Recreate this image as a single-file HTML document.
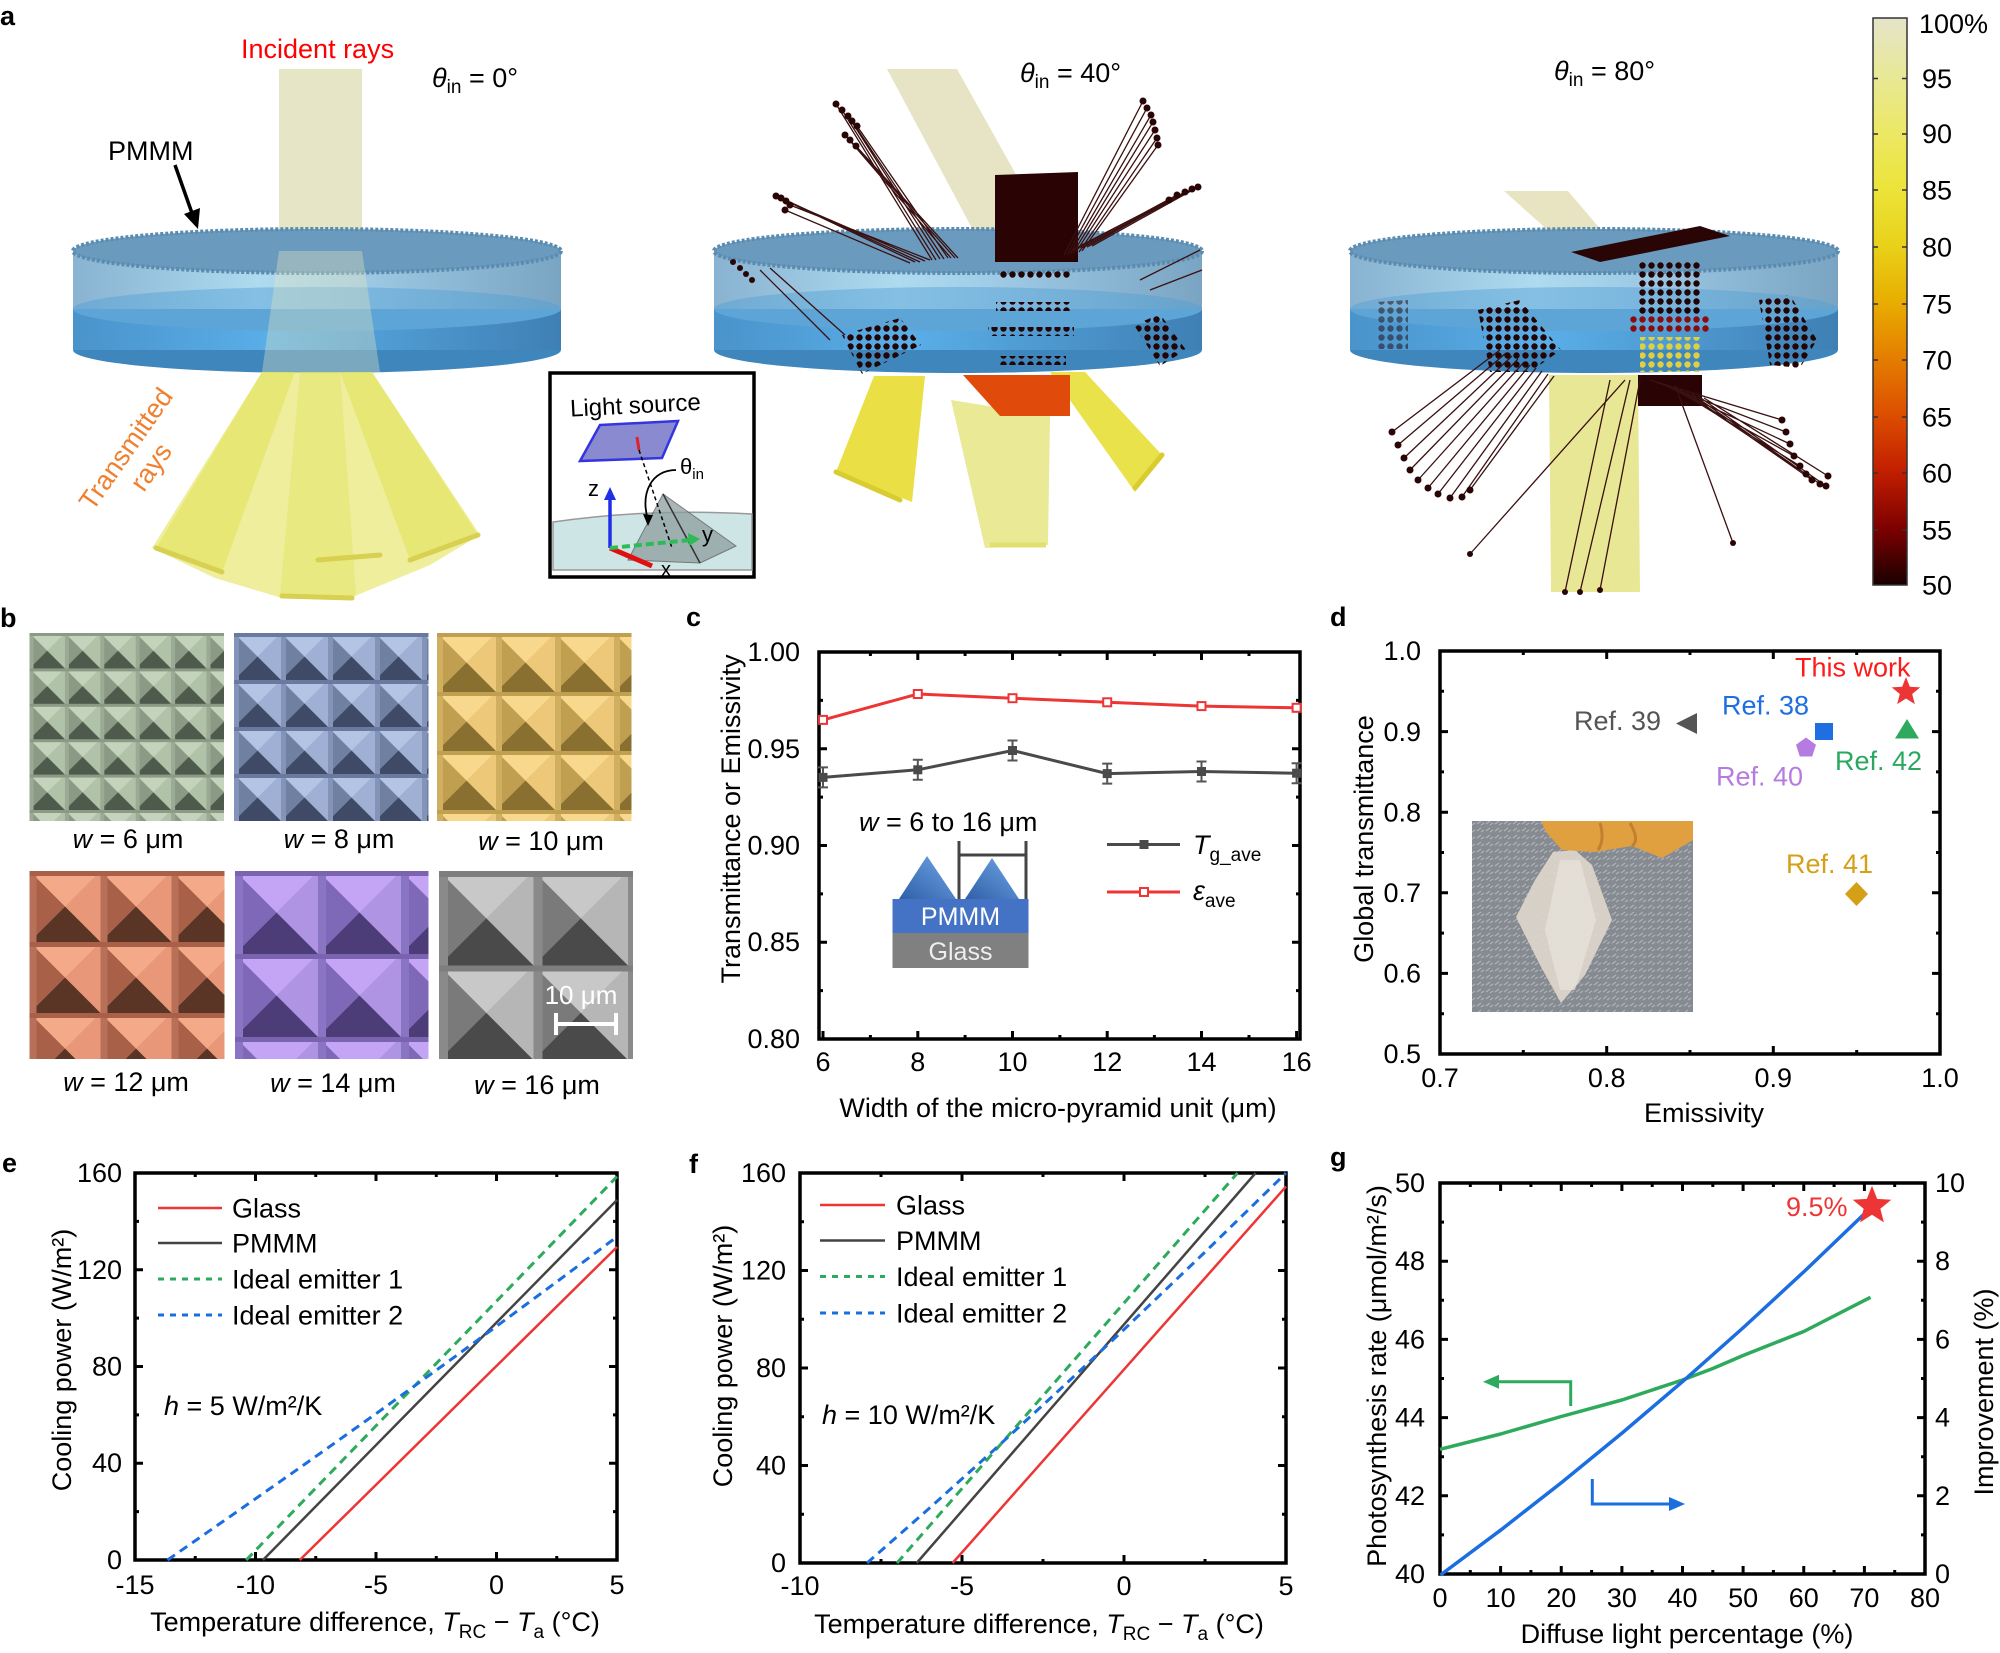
<!DOCTYPE html>
<html><head><meta charset="utf-8"><style>
html,body{margin:0;padding:0;background:#fff;}
svg{display:block;}
text{font-family:"Liberation Sans",Arial,sans-serif;}
</style></head><body>
<svg width="2000" height="1653" viewBox="0 0 2000 1653" xmlns="http://www.w3.org/2000/svg">
<defs>
<linearGradient id="gUp" x1="0" x2="1" y1="0" y2="0"><stop offset="0" stop-color="#7eaccd"/><stop offset="0.38" stop-color="#a8d8ef"/><stop offset="0.6" stop-color="#94c4e2"/><stop offset="1" stop-color="#6e9cbd"/></linearGradient>
<linearGradient id="gLow" x1="0" x2="1" y1="0" y2="0"><stop offset="0" stop-color="#4a93cb"/><stop offset="0.4" stop-color="#5aaee8"/><stop offset="1" stop-color="#3f80b4"/></linearGradient>
<linearGradient id="cbar" x1="0" x2="0" y1="0" y2="1"><stop offset="0" stop-color="#e6e4ca"/><stop offset="0.1" stop-color="#e8e898"/><stop offset="0.2" stop-color="#ece866"/><stop offset="0.3" stop-color="#ece43a"/><stop offset="0.4" stop-color="#e8d21a"/><stop offset="0.5" stop-color="#e8ae00"/><stop offset="0.6" stop-color="#e47e00"/><stop offset="0.7" stop-color="#dc4e00"/><stop offset="0.8" stop-color="#c21e00"/><stop offset="0.9" stop-color="#7e0000"/><stop offset="1" stop-color="#180000"/></linearGradient>
<linearGradient id="pyr" x1="0" x2="1" y1="1" y2="0"><stop offset="0" stop-color="#2f5fa8"/><stop offset="1" stop-color="#6fa6e6"/></linearGradient>
<pattern id="dotp" width="9" height="9" patternUnits="userSpaceOnUse"><circle cx="4.5" cy="4.5" r="3.2" fill="#220404"/></pattern>
<pattern id="dotr" width="9" height="9" patternUnits="userSpaceOnUse"><circle cx="4.5" cy="4.5" r="3.2" fill="#8a0c0c"/></pattern>
<pattern id="doty" width="9" height="9" patternUnits="userSpaceOnUse"><circle cx="4.5" cy="4.5" r="3.2" fill="#e0d040"/></pattern>
<pattern id="photo" width="9" height="7" patternUnits="userSpaceOnUse"><rect width="9" height="7" fill="#868b92"/><path d="M1 5 L5 2 M5 6 L8 4" stroke="#aeb2b8" stroke-width="1.2"/></pattern>
<g id="disc">
 <ellipse cx="244" cy="122" rx="244" ry="23" fill="#3f86bd"/>
 <rect x="0" y="81" width="488" height="41" fill="url(#gLow)"/>
 <ellipse cx="244" cy="81" rx="244" ry="22" fill="#5ba2d6"/>
 <rect x="0" y="23" width="488" height="58" fill="url(#gUp)" opacity="0.92"/>
 <ellipse cx="244" cy="81" rx="244" ry="22" fill="#62a8da" opacity="0.45"/>
 <ellipse cx="244" cy="23" rx="244" ry="22" fill="#6a9abd" stroke="#5b8cb0" stroke-width="4" stroke-dasharray="3 2"/>
</g>
<path id="star" d="M0 -15 L3.82 -5.26 L14.27 -4.64 L6.18 2.01 L8.82 12.14 L0 6.5 L-8.82 12.14 L-6.18 2.01 L-14.27 -4.64 L-3.82 -5.26 Z"/>
</defs>

<!-- ================= PANEL A ================= -->
<text x="0" y="25" font-size="27" font-weight="bold">a</text>
<text x="241" y="58" font-size="27" fill="#ff0000">Incident rays</text>
<text x="432" y="87" font-size="27"><tspan font-style="italic">θ</tspan><tspan font-size="19" dy="6">in</tspan><tspan dy="-6"> = 0°</tspan></text>
<text x="1020" y="82" font-size="27"><tspan font-style="italic">θ</tspan><tspan font-size="19" dy="6">in</tspan><tspan dy="-6"> = 40°</tspan></text>
<text x="1554" y="80" font-size="27"><tspan font-style="italic">θ</tspan><tspan font-size="19" dy="6">in</tspan><tspan dy="-6"> = 80°</tspan></text>
<text x="108" y="160" font-size="27">PMMM</text>
<path d="M175 165 L193 216" stroke="#000" stroke-width="3.5"/>
<polygon points="198,229 200,208 184,214" fill="#000"/>

<!-- left disc -->
<rect x="279" y="69" width="83" height="182" fill="#e6e6c6"/>
<use href="#disc" x="73" y="228"/>
<polygon points="279,251 362,251 380,372 262,372" fill="#e8e8c0" opacity="0.35"/>
<polygon points="262,372 372,372 480,535 430,565 350,598 282,598 215,578 152,548" fill="#e8e87c" opacity="0.75"/>
<polygon points="262,372 295,372 222,572 156,548" fill="#e2e25a" opacity="0.6"/>
<polygon points="340,372 372,372 478,535 410,560" fill="#e2e25a" opacity="0.6"/>
<polygon points="300,372 340,372 356,596 280,596" fill="#e4e466" opacity="0.5"/>
<g stroke="#d8d050" stroke-width="5" stroke-linecap="round" fill="none">
<path d="M156 548 L222 572"/><path d="M282 596 L352 598"/><path d="M410 560 L478 535"/><path d="M318 560 L380 555"/>
</g>
<text transform="translate(126,449) rotate(-55)" font-size="27" fill="#f08030" text-anchor="middle" dominant-baseline="central">Transmitted</text>
<text transform="translate(151,467) rotate(-55)" font-size="27" fill="#f08030" text-anchor="middle" dominant-baseline="central">rays</text>

<!-- inset -->
<rect x="550" y="373" width="204" height="204" fill="#fff" stroke="#000" stroke-width="3.5"/>
<path d="M553 522 Q650 508 752 514 L752 570 L553 570 Z" fill="#cde5e5" stroke="#999" stroke-width="1.5"/>
<polygon points="663,494 628,560 700,563 736,546" fill="#8e9e9e" opacity="0.75" stroke="#555" stroke-width="1"/>
<path d="M663 494 L700 563" stroke="#333" stroke-width="1.5"/>
<polygon points="600,425 678,421 662,458 580,461" fill="#8a8ad0" stroke="#3535e0" stroke-width="2.5"/>
<path d="M637 437 L639 450" stroke="#e0202a" stroke-width="3"/>
<path d="M639 450 L672 548" stroke="#000" stroke-width="1.5" stroke-dasharray="4 3"/>
<path d="M676 470 C652 470 640 492 648 520" stroke="#000" stroke-width="1.8" fill="none"/>
<polygon points="648,526 643,514 653,515" fill="#000"/>
<text x="680" y="474" font-size="22">θ<tspan font-size="15" dy="5">in</tspan></text>
<path d="M610 548 L610 498" stroke="#1f2fe8" stroke-width="3.5"/>
<polygon points="610,487 604,500 616,500" fill="#1f2fe8"/>
<text x="588" y="496" font-size="22">z</text>
<path d="M610 548 L652 566" stroke="#e01010" stroke-width="5"/>
<path d="M610 548 L690 540" stroke="#2dbb55" stroke-width="4" stroke-dasharray="8 4"/>
<polygon points="700,539 688,533 689,546" fill="#2dbb55"/>
<text x="702" y="542" font-size="22">y</text>
<text x="661" y="576" font-size="20">x</text>
<text x="570" y="413" font-size="24" transform="rotate(-3 640 405)">Light source</text>

<!-- middle disc -->
<polygon points="887,69 957,69 1065,262 990,262" fill="#e6e4c4"/>
<use href="#disc" x="714" y="228"/>
<polygon points="995,175 1078,172 1078,262 995,262" fill="#2a0404"/>
<g stroke="#3a1010" stroke-width="1.3" fill="none">
<path d="M915 262 L776 196M920 262 L781 198M925 261 L786 201M930 260 L790 205M910 263 L785 210"/>
<path d="M932 260 L836 104M936 260 L842 110M940 259 L848 116M944 259 L852 121M948 258 L857 126M951 258 L845 135M955 258 L850 140M958 258 L856 146"/>
<path d="M1064 255 L1143 101M1067 255 L1147 108M1070 254 L1151 115M1073 253 L1153 122M1076 252 L1155 130M1079 252 L1157 138M1082 251 L1158 145"/>
<path d="M1072 250 L1169 200M1077 249 L1177 195M1082 248 L1185 192M1087 247 L1192 189M1092 246 L1198 187"/>
<path d="M760 270 L830 340M770 268 L845 335M1140 280 L1200 250M1150 290 L1202 270"/>
</g>
<g fill="#2a0505">
<circle cx="776" cy="196" r="3.5"/><circle cx="781" cy="198" r="3.5"/><circle cx="786" cy="201" r="3.5"/><circle cx="790" cy="205" r="3.5"/><circle cx="785" cy="210" r="3.5"/>
<circle cx="836" cy="104" r="3.5"/><circle cx="842" cy="110" r="3.5"/><circle cx="848" cy="116" r="3.5"/><circle cx="852" cy="121" r="3.5"/><circle cx="857" cy="126" r="3.5"/><circle cx="845" cy="135" r="3.5"/><circle cx="850" cy="140" r="3.5"/><circle cx="856" cy="146" r="3.5"/>
<circle cx="1143" cy="101" r="3.5"/><circle cx="1147" cy="108" r="3.5"/><circle cx="1151" cy="115" r="3.5"/><circle cx="1153" cy="122" r="3.5"/><circle cx="1155" cy="130" r="3.5"/><circle cx="1157" cy="138" r="3.5"/><circle cx="1158" cy="145" r="3.5"/>
<circle cx="1169" cy="200" r="3.5"/><circle cx="1177" cy="195" r="3.5"/><circle cx="1185" cy="192" r="3.5"/><circle cx="1192" cy="189" r="3.5"/><circle cx="1198" cy="187" r="3.5"/>
<circle cx="733" cy="262" r="3"/><circle cx="740" cy="268" r="3"/><circle cx="746" cy="274" r="3"/><circle cx="752" cy="280" r="3"/>
</g>
<rect x="998" y="271" width="72" height="9" fill="url(#dotp)"/>
<rect x="996" y="302" width="76" height="9" fill="url(#dotp)"/>
<rect x="988" y="327" width="86" height="9" fill="url(#dotp)"/>
<rect x="998" y="356" width="68" height="9" fill="url(#dotp)"/>
<polygon points="842,335 900,318 921,345 862,374" fill="url(#dotp)"/>
<polygon points="1134,325 1160,314 1186,350 1160,366" fill="url(#dotp)"/>
<polygon points="874,376 925,376 912,502 836,472" fill="#e8dc30" opacity="0.9"/>
<polygon points="951,400 1050,416 1048,545 985,548" fill="#e8e890" opacity="0.95"/>
<polygon points="1050,372 1085,372 1162,455 1135,492" fill="#e8e040" opacity="0.95"/>
<polygon points="963,375 1070,375 1070,416 1000,416" fill="#e04a0a"/>
<g stroke="#d8cc30" stroke-width="5" stroke-linecap="round"><path d="M836 472 L900 500"/><path d="M1135 488 L1162 455"/></g>
<path d="M990 545 L1046 545" stroke="#e0e070" stroke-width="5"/>

<!-- right disc -->
<polygon points="1504,191 1568,191 1619,251 1571,251" fill="#e8e4c2"/>
<use href="#disc" x="1350" y="228"/>
<polygon points="1571,252 1700,226 1730,236 1600,262" fill="#2a0505"/>
<rect x="1638" y="262" width="64" height="52" fill="url(#dotp)"/>
<rect x="1630" y="314" width="80" height="18" fill="url(#dotr)"/>
<rect x="1640" y="337" width="62" height="35" fill="url(#doty)"/>
<polygon points="1478,310 1520,300 1561,350 1530,372 1490,372" fill="url(#dotp)"/>
<polygon points="1759,300 1790,295 1817,340 1800,368 1770,365" fill="url(#dotp)"/>
<polygon points="1376,302 1408,300 1408,349 1376,349" fill="url(#dotp)" opacity="0.5"/>
<polygon points="1549,375 1638,375 1640,592 1551,592" fill="#e4e48a" opacity="0.9"/>
<rect x="1638" y="375" width="64" height="31" fill="#2a0404"/>
<g stroke="#3a1010" stroke-width="1.3" fill="none">
<path d="M1500 350 L1392 432M1506 353 L1398 445M1512 356 L1404 458M1518 359 L1410 470M1524 362 L1418 480M1530 365 L1428 488M1536 368 L1438 494M1542 371 L1450 498M1548 374 L1462 497M1554 376 L1470 490"/>
<path d="M1650 380 L1782 420M1656 382 L1786 432M1662 384 L1790 444M1668 386 L1794 456M1674 388 L1800 466M1680 390 L1806 474M1686 392 L1812 480M1692 394 L1820 484M1698 396 L1826 486M1704 398 L1828 476"/>
<path d="M1625 380 L1470 554M1675 385 L1733 543M1610 380 L1565 592M1630 380 L1580 592M1640 380 L1600 590"/>
</g>
<g fill="#2a0505">
<circle cx="1392" cy="432" r="3.5"/><circle cx="1398" cy="445" r="3.5"/><circle cx="1404" cy="458" r="3.5"/><circle cx="1410" cy="470" r="3.5"/><circle cx="1418" cy="480" r="3.5"/><circle cx="1428" cy="488" r="3.5"/><circle cx="1438" cy="494" r="3.5"/><circle cx="1450" cy="498" r="3.5"/><circle cx="1462" cy="497" r="3.5"/><circle cx="1470" cy="490" r="3.5"/>
<circle cx="1782" cy="420" r="3.5"/><circle cx="1786" cy="432" r="3.5"/><circle cx="1790" cy="444" r="3.5"/><circle cx="1794" cy="456" r="3.5"/><circle cx="1800" cy="466" r="3.5"/><circle cx="1806" cy="474" r="3.5"/><circle cx="1812" cy="480" r="3.5"/><circle cx="1820" cy="484" r="3.5"/><circle cx="1826" cy="486" r="3.5"/><circle cx="1828" cy="476" r="3.5"/>
<circle cx="1470" cy="554" r="3"/><circle cx="1733" cy="543" r="3"/><circle cx="1565" cy="592" r="3"/><circle cx="1580" cy="592" r="3"/><circle cx="1600" cy="590" r="3"/>
</g>

<!-- colorbar -->
<rect x="1873" y="18" width="34" height="567" fill="url(#cbar)" stroke="#333" stroke-width="1.5"/>
<path d="M1907 78.5h-5M1907 134h-5M1907 190h-5M1907 247h-5M1907 304h-5M1907 360h-5M1907 417h-5M1907 473h-5M1907 530h-5M1873 78.5h5M1873 134h5M1873 190h5M1873 247h5M1873 304h5M1873 360h5M1873 417h5M1873 473h5M1873 530h5" stroke="#333" stroke-width="1.5"/>
<g font-size="27">
<text x="1919" y="33">100%</text><text x="1922" y="88">95</text><text x="1922" y="143">90</text><text x="1922" y="199.5">85</text><text x="1922" y="256.5">80</text><text x="1922" y="313.5">75</text><text x="1922" y="369.5">70</text><text x="1922" y="426.5">65</text><text x="1922" y="482.5">60</text><text x="1922" y="539.5">55</text><text x="1922" y="594.5">50</text>
</g>

<!-- ================= PANEL B ================= -->
<text x="0" y="627" font-size="27" font-weight="bold">b</text>
<defs>
<pattern id="t1" width="35.4" height="35.4" patternUnits="userSpaceOnUse" x="29.5" y="633"><rect width="35.4" height="35.4" fill="#c4d4bc"/><polygon points="35.4,0 35.4,35.4 17.7,17.7" fill="#b0c2a8"/><polygon points="0,0 17.7,17.7 0,35.4" fill="#8a9a84"/><polygon points="0,35.4 17.7,17.7 35.4,35.4" fill="#4e5a4c"/><rect x="0" y="0" width="4" height="35.4" fill="#9aaa94"/><rect x="0" y="0" width="35.4" height="3" fill="#8a9a84"/></pattern>
<pattern id="t2" width="47" height="47" patternUnits="userSpaceOnUse" x="234" y="633"><rect width="47" height="47" fill="#b4c4e4"/><polygon points="47,0 47,47 23.5,23.5" fill="#a0b0d4"/><polygon points="0,0 23.5,23.5 0,47" fill="#7080a0"/><polygon points="0,47 23.5,23.5 47,47" fill="#3e4a66"/><rect x="0" y="0" width="5" height="47" fill="#8494b8"/><rect x="0" y="0" width="47" height="4" fill="#6a7a9e"/></pattern>
<pattern id="t3" width="59" height="59" patternUnits="userSpaceOnUse" x="437" y="633"><rect width="59" height="59" fill="#f8d88c"/><polygon points="59,0 59,59 29.5,29.5" fill="#ecc878"/><polygon points="0,0 29.5,29.5 0,59" fill="#c0a050"/><polygon points="0,59 29.5,29.5 59,59" fill="#8a7030"/><rect x="0" y="0" width="6" height="59" fill="#d0b060"/><rect x="0" y="0" width="59" height="4" fill="#c0a050"/></pattern>
<pattern id="t4" width="71" height="71" patternUnits="userSpaceOnUse" x="29.5" y="871"><rect width="71" height="71" fill="#f4aa88"/><polygon points="71,0 71,71 35.5,35.5" fill="#e89878"/><polygon points="0,0 35.5,35.5 0,71" fill="#a86048"/><polygon points="0,71 35.5,35.5 71,71" fill="#5a3424"/><rect x="0" y="0" width="7" height="71" fill="#b87058"/><rect x="0" y="0" width="71" height="5" fill="#a86048"/></pattern>
<pattern id="t5" width="83" height="83" patternUnits="userSpaceOnUse" x="235" y="871"><rect width="83" height="83" fill="#c4a4f4"/><polygon points="83,0 83,83 41.5,41.5" fill="#b094e4"/><polygon points="0,0 41.5,41.5 0,83" fill="#8068b8"/><polygon points="0,83 41.5,41.5 83,83" fill="#4c3c78"/><rect x="0" y="0" width="8" height="83" fill="#8a74c4"/><rect x="0" y="0" width="83" height="5" fill="#7a64b0"/></pattern>
<pattern id="t6" width="94.5" height="94.5" patternUnits="userSpaceOnUse" x="439" y="871"><rect width="94.5" height="94.5" fill="#c8c8c8"/><polygon points="94.5,0 94.5,94.5 47.25,47.25" fill="#b6b6b6"/><polygon points="0,0 47.25,47.25 0,94.5" fill="#7a7a7a"/><polygon points="0,94.5 47.25,47.25 94.5,94.5" fill="#4a4a4a"/><rect x="0" y="0" width="9" height="94.5" fill="#8a8a8a"/><rect x="0" y="0" width="94.5" height="6" fill="#7e7e7e"/></pattern>
</defs>
<rect x="29.5" y="633" width="194.5" height="188" fill="url(#t1)"/>
<rect x="234" y="633" width="194.5" height="188" fill="url(#t2)"/>
<rect x="437" y="633" width="194.5" height="188" fill="url(#t3)"/>
<rect x="29.5" y="871" width="195" height="188" fill="url(#t4)"/>
<rect x="235" y="871" width="193.5" height="188" fill="url(#t5)"/>
<rect x="439" y="871" width="194" height="188" fill="url(#t6)"/>
<text x="581" y="1004" font-size="26" fill="#fff" text-anchor="middle">10 μm</text>
<path d="M555 1024 H617 M556 1013 V1035 M616 1013 V1035" stroke="#fff" stroke-width="4"/>
<g font-size="27" text-anchor="middle">
<text x="128" y="848"><tspan font-style="italic">w</tspan> = 6 μm</text>
<text x="339" y="848"><tspan font-style="italic">w</tspan> = 8 μm</text>
<text x="541" y="850"><tspan font-style="italic">w</tspan> = 10 μm</text>
<text x="126" y="1091"><tspan font-style="italic">w</tspan> = 12 μm</text>
<text x="333" y="1092"><tspan font-style="italic">w</tspan> = 14 μm</text>
<text x="537" y="1094"><tspan font-style="italic">w</tspan> = 16 μm</text>
</g>

<!-- ================= PANEL C ================= -->
<text x="686" y="626" font-size="27" font-weight="bold">c</text>
<rect x="819" y="652" width="481" height="387" fill="none" stroke="#000" stroke-width="3.5"/>
<path d="M819 748.75h8M819 845.5h8M819 942.25h8M819 700.4h4M819 797.1h4M819 893.9h4M819 990.6h4M1300 748.75h-8M1300 845.5h-8M1300 942.25h-8M1300 700.4h-4M1300 797.1h-4M1300 893.9h-4M1300 990.6h-4M917.8 652v8M1012.5 652v8M1107.2 652v8M1201.5 652v8M870.4 652v4M965.1 652v4M1059.9 652v4M1154.4 652v4M1249 652v4M823 1039v-8M917.8 1039v-8M1012.5 1039v-8M1107.2 1039v-8M1201.5 1039v-8M1296.6 1039v-8M870.4 1039v-4M965.1 1039v-4M1059.9 1039v-4M1154.4 1039v-4M1249 1039v-4" stroke="#000" stroke-width="3"/>
<g font-size="27" text-anchor="end">
<text x="800" y="661">1.00</text><text x="800" y="758">0.95</text><text x="800" y="854.5">0.90</text><text x="800" y="951">0.85</text><text x="800" y="1048">0.80</text>
</g>
<g font-size="27" text-anchor="middle">
<text x="823" y="1071">6</text><text x="917.8" y="1071">8</text><text x="1012.5" y="1071">10</text><text x="1107.2" y="1071">12</text><text x="1201.5" y="1071">14</text><text x="1296.6" y="1071">16</text>
</g>
<text transform="translate(731,819) rotate(-90)" font-size="27" text-anchor="middle" dominant-baseline="central">Transmittance or Emissivity</text>
<text x="1058" y="1117" font-size="27" text-anchor="middle">Width of the micro-pyramid unit (μm)</text>
<path d="M823 719.9 L917.8 694 L1012.5 698.2 L1107.2 702.3 L1201.5 706.1 L1296.6 707.8" fill="none" stroke="#ee3535" stroke-width="3"/>
<path d="M823 777.4 L917.8 769.8 L1012.5 750.5 L1107.2 773.6 L1201.5 771.5 L1296.6 773.2" fill="none" stroke="#4a4a4a" stroke-width="3"/>
<path d="M823 767.4v20M818 767.4h10M818 787.4h10M917.8 759.8v20M912.8 759.8h10M912.8 779.8h10M1012.5 740.5v20M1007.5 740.5h10M1007.5 760.5h10M1107.2 763.6v20M1102.2 763.6h10M1102.2 783.6h10M1201.5 761.5v20M1196.5 761.5h10M1196.5 781.5h10M1296.6 763.2v20M1291.6 763.2h10M1291.6 783.2h10" stroke="#555" stroke-width="2"/>
<g fill="#4a4a4a"><rect x="818.5" y="772.9" width="9" height="9"/><rect x="913.3" y="765.3" width="9" height="9"/><rect x="1008" y="746" width="9" height="9"/><rect x="1102.7" y="769.1" width="9" height="9"/><rect x="1197" y="767" width="9" height="9"/><rect x="1292.1" y="768.7" width="9" height="9"/></g>
<g fill="#fff" stroke="#ee3535" stroke-width="2"><rect x="819" y="715.9" width="8" height="8"/><rect x="913.8" y="690" width="8" height="8"/><rect x="1008.5" y="694.2" width="8" height="8"/><rect x="1103.2" y="698.3" width="8" height="8"/><rect x="1197.5" y="702.1" width="8" height="8"/><rect x="1292.6" y="703.8" width="8" height="8"/></g>
<text x="859" y="831" font-size="27"><tspan font-style="italic">w</tspan> = 6 to 16 μm</text>
<rect x="892.5" y="899" width="136" height="34" fill="#4472c4"/>
<rect x="892.5" y="933" width="136" height="35" fill="#808080"/>
<polygon points="899,899 956,899 927,856" fill="url(#pyr)"/>
<polygon points="965,899 1019,899 992,858" fill="url(#pyr)"/>
<path d="M959 841 V899 M1026 841 V899 M959 855 H1026" stroke="#444" stroke-width="3" fill="none"/>
<text x="960.5" y="925" font-size="25" fill="#fff" text-anchor="middle">PMMM</text>
<text x="960.5" y="960" font-size="25" fill="#eee" text-anchor="middle">Glass</text>
<path d="M1107 844.5 H1180" stroke="#4a4a4a" stroke-width="3"/>
<rect x="1139.5" y="840" width="9" height="9" fill="#4a4a4a"/>
<path d="M1107 892 H1180" stroke="#ee3535" stroke-width="3"/>
<rect x="1140" y="888" width="8" height="8" fill="#fff" stroke="#ee3535" stroke-width="2"/>
<text x="1193" y="854" font-size="27"><tspan font-style="italic">T</tspan><tspan font-size="19" dy="7">g_ave</tspan></text>
<text x="1193" y="900" font-size="27"><tspan font-style="italic">ε</tspan><tspan font-size="19" dy="7">ave</tspan></text>

<!-- ================= PANEL D ================= -->
<text x="1330" y="626" font-size="27" font-weight="bold">d</text>
<rect x="1472" y="821" width="221" height="191" fill="url(#photo)"/>
<polygon points="1553,852 1575,850 1592,865 1612,920 1585,975 1561,1003 1540,965 1516,917 1535,880" fill="#ddd6cc" opacity="0.92"/>
<polygon points="1560,860 1580,860 1596,920 1575,990 1560,990 1545,930" fill="#e8e4dc" opacity="0.7"/>
<polygon points="1541,821 1693,821 1693,840 1662,858 1632,846 1595,852 1562,850 1546,832" fill="#e0a040"/>
<path d="M1600 823 Q1605 840 1598 850 M1630 823 Q1640 840 1632 846" stroke="#c08030" stroke-width="3" fill="none"/>
<rect x="1440" y="651" width="500" height="403" fill="none" stroke="#000" stroke-width="3.5"/>
<path d="M1440 731.6h8M1440 812.2h8M1440 892.8h8M1440 973.4h8M1440 691.3h4M1440 771.9h4M1440 852.5h4M1440 933.1h4M1440 1013.7h4M1940 731.6h-8M1940 812.2h-8M1940 892.8h-8M1940 973.4h-8M1940 691.3h-4M1940 771.9h-4M1940 852.5h-4M1940 933.1h-4M1940 1013.7h-4M1606.7 1054v-8M1773.3 1054v-8M1523.3 1054v-4M1690 1054v-4M1856.7 1054v-4M1606.7 651v8M1773.3 651v8M1523.3 651v4M1690 651v4M1856.7 651v4" stroke="#000" stroke-width="3"/>
<g font-size="27" text-anchor="end">
<text x="1421" y="660">1.0</text><text x="1421" y="741">0.9</text><text x="1421" y="821.5">0.8</text><text x="1421" y="902">0.7</text><text x="1421" y="982.5">0.6</text><text x="1421" y="1063">0.5</text>
</g>
<g font-size="27" text-anchor="middle">
<text x="1440" y="1087">0.7</text><text x="1606.7" y="1087">0.8</text><text x="1773.3" y="1087">0.9</text><text x="1940" y="1087">1.0</text>
</g>
<text transform="translate(1364,839) rotate(-90)" font-size="27" text-anchor="middle" dominant-baseline="central">Global transmittance</text>
<text x="1704" y="1122" font-size="27" text-anchor="middle">Emissivity</text>
<use href="#star" transform="translate(1906,692)" fill="#ee3535"/>
<rect x="1815" y="723" width="18" height="17" fill="#1f6fe0"/>
<polygon points="1907,719 1919,738.5 1895,738.5" fill="#2eaa5e"/>
<polygon points="1806,737.5 1816,744.8 1812.2,756.5 1799.8,756.5 1796,744.8" fill="#b57be0"/>
<polygon points="1676,723.5 1697,713 1697,734" fill="#555"/>
<polygon points="1856.5,882 1868,894 1856.5,906 1845,894" fill="#d4a017"/>
<g font-size="27">
<text x="1795" y="676.5" fill="#ff1a1a">This work</text>
<text x="1722" y="714.5" fill="#1f6fe0">Ref. 38</text>
<text x="1574" y="730" fill="#555">Ref. 39</text>
<text x="1716" y="785.5" fill="#b57be0">Ref. 40</text>
<text x="1835" y="770" fill="#2aa860">Ref. 42</text>
<text x="1786" y="873" fill="#d4a017">Ref. 41</text>
</g>

<!-- ================= PANEL E ================= -->
<text x="2" y="1172" font-size="27" font-weight="bold">e</text>
<rect x="135" y="1173" width="482" height="387" fill="none" stroke="#000" stroke-width="3.5"/>
<path d="M135 1463.2h8M135 1366.5h8M135 1269.7h8M135 1511.6h4M135 1414.9h4M135 1318.1h4M135 1221.4h4M617 1463.2h-8M617 1366.5h-8M617 1269.7h-8M617 1511.6h-4M617 1414.9h-4M617 1318.1h-4M617 1221.4h-4M255.5 1560v-8M376 1560v-8M496.5 1560v-8M195.25 1560v-4M315.75 1560v-4M436.25 1560v-4M556.75 1560v-4M255.5 1173v8M376 1173v8M496.5 1173v8M195.25 1173v4M315.75 1173v4M436.25 1173v4M556.75 1173v4" stroke="#000" stroke-width="3"/>
<g font-size="27" text-anchor="end">
<text x="122" y="1182">160</text><text x="122" y="1279">120</text><text x="122" y="1375.5">80</text><text x="122" y="1472">40</text><text x="122" y="1569">0</text>
</g>
<g font-size="27" text-anchor="middle">
<text x="135" y="1594">-15</text><text x="255.5" y="1594">-10</text><text x="376" y="1594">-5</text><text x="496.5" y="1594">0</text><text x="617" y="1594">5</text>
</g>
<text transform="translate(62,1360) rotate(-90)" font-size="27" text-anchor="middle" dominant-baseline="central">Cooling power (W/m²)</text>
<text x="375" y="1631" font-size="27" text-anchor="middle">Temperature difference, <tspan font-style="italic">T</tspan><tspan font-size="19" dy="7">RC</tspan><tspan dy="-7"> − </tspan><tspan font-style="italic">T</tspan><tspan font-size="19" dy="7">a</tspan><tspan dy="-7"> (°C)</tspan></text>
<path d="M299.8 1560 L617 1247" stroke="#ee3535" stroke-width="2.5" fill="none"/>
<path d="M263 1560 L617 1200" stroke="#444" stroke-width="2.5" fill="none"/>
<path d="M246.2 1560 L617 1176.6" stroke="#2eaa5c" stroke-width="3" stroke-dasharray="9 6" fill="none"/>
<path d="M167.5 1560 L231.4 1515.6 L303.7 1465 L376 1413.7 L448.3 1361.5 L496.5 1326.3 L556.75 1281.8 L617 1236.8" stroke="#1a6ee0" stroke-width="3" stroke-dasharray="9 6" fill="none"/>
<path d="M158 1208 H222" stroke="#ee3535" stroke-width="2.5"/>
<path d="M158 1243 H222" stroke="#444" stroke-width="2.5"/>
<path d="M158 1279 H222" stroke="#2eaa5c" stroke-width="3" stroke-dasharray="6 6"/>
<path d="M158 1315 H222" stroke="#1a6ee0" stroke-width="3" stroke-dasharray="6 6"/>
<g font-size="27">
<text x="232" y="1217.5">Glass</text><text x="232" y="1252.5">PMMM</text><text x="232" y="1288.5">Ideal emitter 1</text><text x="232" y="1324.5">Ideal emitter 2</text>
<text x="164" y="1415"><tspan font-style="italic">h</tspan> = 5 W/m²/K</text>
</g>

<!-- ================= PANEL F ================= -->
<text x="689" y="1173" font-size="27" font-weight="bold">f</text>
<rect x="800" y="1173" width="486" height="390" fill="none" stroke="#000" stroke-width="3.5"/>
<path d="M800 1465.5h8M800 1368h8M800 1270.5h8M800 1514.25h4M800 1416.75h4M800 1319.25h4M800 1221.75h4M1286 1465.5h-8M1286 1368h-8M1286 1270.5h-8M1286 1514.25h-4M1286 1416.75h-4M1286 1319.25h-4M1286 1221.75h-4M962 1563v-8M1124 1563v-8M881 1563v-4M1043 1563v-4M1205 1563v-4M962 1173v8M1124 1173v8M881 1173v4M1043 1173v4M1205 1173v4" stroke="#000" stroke-width="3"/>
<g font-size="27" text-anchor="end">
<text x="786" y="1182">160</text><text x="786" y="1279.5">120</text><text x="786" y="1377">80</text><text x="786" y="1474.5">40</text><text x="786" y="1572">0</text>
</g>
<g font-size="27" text-anchor="middle">
<text x="800" y="1595">-10</text><text x="962" y="1595">-5</text><text x="1124" y="1595">0</text><text x="1286" y="1595">5</text>
</g>
<text transform="translate(723,1356) rotate(-90)" font-size="27" text-anchor="middle" dominant-baseline="central">Cooling power (W/m²)</text>
<text x="1039" y="1633" font-size="27" text-anchor="middle">Temperature difference, <tspan font-style="italic">T</tspan><tspan font-size="19" dy="7">RC</tspan><tspan dy="-7"> − </tspan><tspan font-style="italic">T</tspan><tspan font-size="19" dy="7">a</tspan><tspan dy="-7"> (°C)</tspan></text>
<path d="M952.6 1563 L1286 1186.6" stroke="#ee3535" stroke-width="2.5" fill="none"/>
<path d="M916.7 1563 L1255.6 1173" stroke="#444" stroke-width="2.5" fill="none"/>
<path d="M897 1563 L1237.5 1173" stroke="#2eaa5c" stroke-width="3" stroke-dasharray="9 6" fill="none"/>
<path d="M867.1 1563 L929.6 1508 L994.4 1449.6 L1059.2 1390.1 L1124 1329.5 L1205 1252.1 L1286 1173" stroke="#1a6ee0" stroke-width="3" stroke-dasharray="9 6" fill="none"/>
<path d="M820 1205 H885" stroke="#ee3535" stroke-width="2.5"/>
<path d="M820 1240.5 H885" stroke="#444" stroke-width="2.5"/>
<path d="M820 1276.5 H885" stroke="#2eaa5c" stroke-width="3" stroke-dasharray="6 6"/>
<path d="M820 1313 H885" stroke="#1a6ee0" stroke-width="3" stroke-dasharray="6 6"/>
<g font-size="27">
<text x="896" y="1214.5">Glass</text><text x="896" y="1250">PMMM</text><text x="896" y="1286">Ideal emitter 1</text><text x="896" y="1322.5">Ideal emitter 2</text>
<text x="822" y="1424"><tspan font-style="italic">h</tspan> = 10 W/m²/K</text>
</g>

<!-- ================= PANEL G ================= -->
<text x="1330" y="1166" font-size="27" font-weight="bold">g</text>
<rect x="1440" y="1183" width="485" height="391" fill="none" stroke="#000" stroke-width="3.5"/>
<path d="M1440 1495.8h8M1440 1417.6h8M1440 1339.4h8M1440 1261.2h8M1440 1534.9h4M1440 1456.7h4M1440 1378.5h4M1440 1300.3h4M1440 1222.1h4M1925 1495.8h-8M1925 1417.6h-8M1925 1339.4h-8M1925 1261.2h-8M1925 1534.9h-4M1925 1456.7h-4M1925 1378.5h-4M1925 1300.3h-4M1925 1222.1h-4M1500.6 1574v-8M1561.25 1574v-8M1621.9 1574v-8M1682.5 1574v-8M1743.1 1574v-8M1803.75 1574v-8M1864.4 1574v-8M1470.3 1574v-4M1530.9 1574v-4M1591.6 1574v-4M1652.2 1574v-4M1712.8 1574v-4M1773.4 1574v-4M1834.1 1574v-4M1894.7 1574v-4M1500.6 1183v8M1561.25 1183v8M1621.9 1183v8M1682.5 1183v8M1743.1 1183v8M1803.75 1183v8M1864.4 1183v8M1470.3 1183v4M1530.9 1183v4M1591.6 1183v4M1652.2 1183v4M1712.8 1183v4M1773.4 1183v4M1834.1 1183v4M1894.7 1183v4" stroke="#000" stroke-width="3"/>
<g font-size="27" text-anchor="end">
<text x="1425" y="1192">50</text><text x="1425" y="1270">48</text><text x="1425" y="1348.5">46</text><text x="1425" y="1426.5">44</text><text x="1425" y="1505">42</text><text x="1425" y="1583">40</text>
</g>
<g font-size="27">
<text x="1935" y="1192">10</text><text x="1935" y="1270">8</text><text x="1935" y="1348.5">6</text><text x="1935" y="1426.5">4</text><text x="1935" y="1505">2</text><text x="1935" y="1583">0</text>
</g>
<g font-size="27" text-anchor="middle">
<text x="1440" y="1607">0</text><text x="1500.6" y="1607">10</text><text x="1561.25" y="1607">20</text><text x="1621.9" y="1607">30</text><text x="1682.5" y="1607">40</text><text x="1743.1" y="1607">50</text><text x="1803.75" y="1607">60</text><text x="1864.4" y="1607">70</text><text x="1925" y="1607">80</text>
</g>
<text transform="translate(1377,1376) rotate(-90)" font-size="27" text-anchor="middle" dominant-baseline="central">Photosynthesis rate (μmol/m²/s)</text>
<text transform="translate(1984,1392) rotate(-90)" font-size="27" text-anchor="middle" dominant-baseline="central">Improvement (%)</text>
<text x="1687" y="1643" font-size="27" text-anchor="middle">Diffuse light percentage (%)</text>
<path d="M1440 1449.3 L1500.6 1434 L1561.25 1416.5 L1621.9 1400 L1682.5 1380 L1712.8 1368.5 L1743.1 1355.5 L1803.75 1331.5 L1870.5 1297.3" stroke="#2eaa5c" stroke-width="3.5" fill="none" stroke-linejoin="round"/>
<path d="M1440.5 1575 L1501.2 1529.7 L1561.9 1482.2 L1622.6 1432.6 L1683.3 1380.9 L1744 1327 L1804.7 1271 L1871.5 1207" stroke="#1a6ee0" stroke-width="3.5" fill="none" stroke-linejoin="round"/>
<path d="M1570.7 1406 V1381.7 H1496" stroke="#2eaa5c" stroke-width="3" fill="none"/>
<polygon points="1483,1381.7 1499,1374.7 1499,1388.7" fill="#2eaa5c"/>
<path d="M1592.3 1479 V1504 H1672" stroke="#1a6ee0" stroke-width="3" fill="none"/>
<polygon points="1685,1504 1669,1497 1669,1511" fill="#1a6ee0"/>
<use href="#star" transform="translate(1872,1206) scale(1.35)" fill="#ee3535"/>
<text x="1786" y="1216" font-size="27" fill="#ee3535">9.5%</text>
</svg>
</body></html>
